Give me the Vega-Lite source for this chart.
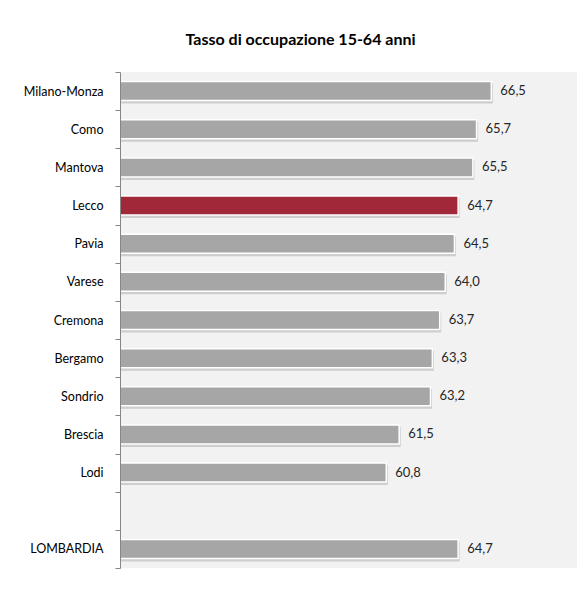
{
  "$schema": "https://vega.github.io/schema/vega-lite/v6.json",
  "width": 457,
  "height": 496,
  "autosize": {"type": "none"},
  "padding": {"left": 120, "top": 72, "right": 0, "bottom": 36},
  "background": "white",
  "config": {
    "font": "Lato",
    "view": {"fill": "#f2f2f2", "stroke": null},
    "locale": {"number": {"decimal": ",", "thousands": ".", "grouping": [3], "currency": ["€", ""]}}
  },
  "title": {
    "text": "Tasso di occupazione 15-64 anni",
    "anchor": "middle",
    "dx": -48,
    "offset": 18,
    "fontSize": 16,
    "fontWeight": "bold",
    "color": "#000000"
  },
  "data": {
    "values": [
      {"provincia": "Milano-Monza", "tasso": 66.5},
      {"provincia": "Como", "tasso": 65.7},
      {"provincia": "Mantova", "tasso": 65.5},
      {"provincia": "Lecco", "tasso": 64.7},
      {"provincia": "Pavia", "tasso": 64.5},
      {"provincia": "Varese", "tasso": 64.0},
      {"provincia": "Cremona", "tasso": 63.7},
      {"provincia": "Bergamo", "tasso": 63.3},
      {"provincia": "Sondrio", "tasso": 63.2},
      {"provincia": "Brescia", "tasso": 61.5},
      {"provincia": "Lodi", "tasso": 60.8},
      {"provincia": "LOMBARDIA", "tasso": 64.7}
    ]
  },
  "encoding": {
    "y": {
      "field": "provincia",
      "type": "nominal",
      "scale": {
        "domain": ["Milano-Monza", "Como", "Mantova", "Lecco", "Pavia", "Varese", "Cremona", "Bergamo", "Sondrio", "Brescia", "Lodi", " ", "LOMBARDIA"],
        "paddingInner": 0,
        "paddingOuter": 0
      },
      "axis": {
        "title": null,
        "domainColor": "#868686",
        "tickColor": "#868686",
        "tickSize": 5,
        "tickBand": "extent",
        "labelPadding": 12,
        "labelFontSize": 12.5,
        "labelColor": "#000000",
        "labelFont": "Lato",
        "zindex": 1
      }
    },
    "x": {
      "field": "tasso",
      "type": "quantitative",
      "scale": {"domain": [46.35, 71.15], "zero": false, "nice": false},
      "axis": null
    }
  },
  "layer": [
    {
      "mark": {"type": "bar", "height": 20, "color": "#c4c4c4", "yOffset": 2.5, "xOffset": 1.5, "opacity": 0.8, "clip": true}
    },
    {
      "mark": {"type": "bar", "height": 19, "stroke": "white", "strokeWidth": 1.5, "clip": true},
      "encoding": {
        "color": {
          "condition": {"test": "datum.provincia === 'Lecco'", "value": "#a12839"},
          "value": "#a6a6a6"
        }
      }
    },
    {
      "mark": {"type": "text", "align": "left", "baseline": "middle", "dx": 9, "fontSize": 13, "color": "#262626"},
      "encoding": {
        "text": {"field": "tasso", "type": "quantitative", "format": ".1f"}
      }
    }
  ]
}
